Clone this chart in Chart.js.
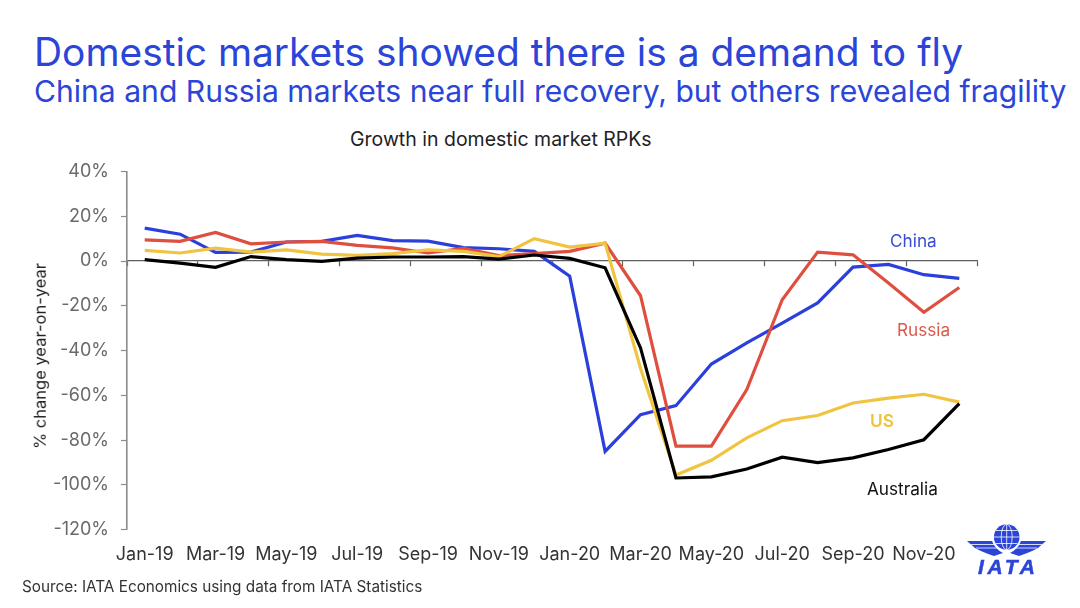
<!DOCTYPE html>
<html>
<head>
<meta charset="utf-8">
<title>Growth in domestic market RPKs</title>
<script src="https://cdn.jsdelivr.net/npm/chart.js@4/dist/chart.umd.min.js"></script>
<style>
    html, body { margin: 0; padding: 0; background: #fff; }
    body { width: 1080px; height: 608px; position: relative; overflow: hidden; font-family: Inter, "Open Sans", sans-serif; }
    canvas { position: absolute; left: 0; top: 0; }
    .text { position: absolute; white-space: nowrap; line-height: 1; }
    .blue { color: #2a45d8; }
    #headline { left: 34px; top: 32.5px; font-size: 38.9px; }
    #subline { left: 34px; top: 76px; font-size: 30.1px; }
    #chartTitle { left: 350px; top: 130px; font-size: 19.5px; color: #222; }
    #source { left: 22px; top: 578.5px; font-size: 15.3px; color: #333; }
    #yTitle { left: 40px; top: 356px; font-size: 16.5px; color: #222; transform: translate(-50%, -50%) rotate(-90deg); }
    .series-label { font-size: 17.2px; }
    #labelChina { left: 890px; top: 231.5px; color: #3a4ccf; }
    #labelRussia { left: 897px; top: 320.5px; color: #dc5a4c; }
    #labelUs { left: 870px; top: 411.5px; color: #efc23e; font-weight: 600; }
    #labelAustralia { left: 867px; top: 479.5px; color: #111; }
    #logo { position: absolute; left: 960px; top: 520px; }
</style>
</head>
<body>
<div id="headline" class="text blue">Domestic markets showed there is a demand to fly</div>
<div id="subline" class="text blue">China and Russia markets near full recovery, but others revealed fragility</div>
<div id="chartTitle" class="text">Growth in domestic market RPKs</div>
<canvas id="marketChart" width="1080" height="608"></canvas>
<div id="yTitle" class="text">% change year-on-year</div>
<div id="labelChina" class="text series-label">China</div>
<div id="labelRussia" class="text series-label">Russia</div>
<div id="labelUs" class="text series-label">US</div>
<div id="labelAustralia" class="text series-label">Australia</div>
<div id="source" class="text">Source: IATA Economics using data from IATA Statistics</div>

<svg id="logo" width="92" height="60" viewBox="960 520 92 60">
    <circle cx="1006.7" cy="537" r="12.8" fill="#2a45d8"/>
    <g fill="none" stroke="#fff" stroke-width="0.8">
        <ellipse cx="1006.7" cy="537" rx="5.5" ry="12.8"/>
        <line x1="1006.7" y1="524" x2="1006.7" y2="550"/>
        <line x1="994" y1="537" x2="1019.5" y2="537"/>
        <line x1="996" y1="530.5" x2="1017.5" y2="530.5"/>
        <line x1="996" y1="543.5" x2="1017.5" y2="543.5"/>
    </g>
    <g fill="#2a45d8">
        <path d="M967 541 L992 541 Q995 549 1003 553 L994 556 Q982 552 975 548 Z"/>
        <path d="M1046 541 L1021 541 Q1018 549 1010 553 L1019 556 Q1031 552 1038 548 Z"/>
    </g>
    <g stroke="#fff" stroke-width="0.8">
        <line x1="971" y1="544.5" x2="994" y2="544.5"/>
        <line x1="976" y1="548" x2="997" y2="548"/>
        <line x1="1042" y1="544.5" x2="1019" y2="544.5"/>
        <line x1="1037" y1="548" x2="1016" y2="548"/>
    </g>
    <text x="978" y="574" textLength="57" lengthAdjust="spacing" font-family="Liberation Sans" font-weight="700" font-style="italic" font-size="21" stroke="#2a45d8" stroke-width="0.5" fill="#2a45d8">IATA</text>
</svg>

<script>
var months = ["Jan-19", "Feb-19", "Mar-19", "Apr-19", "May-19", "Jun-19", "Jul-19", "Aug-19", "Sep-19", "Oct-19", "Nov-19", "Dec-19",
    "Jan-20", "Feb-20", "Mar-20", "Apr-20", "May-20", "Jun-20", "Jul-20", "Aug-20", "Sep-20", "Oct-20", "Nov-20", "Dec-20"];
var china = [14.7, 12, 3.9, 4, 8.5, 8.8, 11.5, 9.1, 8.9, 6, 5.5, 4.3, -6.8, -85, -68.6, -64.6, -46, -36.5, -27.7, -18.7, -2.7, -1.5, -6.1, -7.7];
var russia = [9.5, 8.8, 12.8, 7.7, 8.5, 8.8, 7, 5.9, 3.6, 5.7, 2.4, 3.3, 4.3, 8, -15.5, -82.7, -82.7, -57.4, -17.3, 4, 2.8, -9.8, -22.9, -11.8];
var us = [4.8, 3.6, 5.8, 4, 5, 3.1, 2.5, 3.3, 5, 4.3, 2, 10, 6.2, 8, -48, -95.6, -89, -79, -71.3, -69, -63.4, -61.2, -59.5, -63];
var australia = [0.6, -0.9, -2.8, 2, 0.6, -0.1, 1.3, 1.8, 1.8, 2, 0.9, 2.7, 1.2, -3, -38.8, -96.9, -96.4, -92.9, -87.6, -90, -87.9, -84.2, -79.8, -63.7];

document.addEventListener("DOMContentLoaded", function () {
    setupMarketChart();
});

function createDataset(label, values, color) {
    return {
        label: label,
        data: values,
        borderColor: color,
        backgroundColor: color,
        borderWidth: 3.2,
        pointRadius: 0,
        tension: 0,
        xAxisID: "x",
        yAxisID: "y"
    };
}

function setupMarketChart() {
    var axisColor = "#5f5f5f";
    var labelFont = { family: "Inter", size: 18 };

    // De eerste dataset ligt bovenop, dus Australia staat vooraan.
    new Chart(document.getElementById("marketChart"), {
        type: "line",
        data: {
            labels: months,
            datasets: [
                createDataset("Australia", australia, "#000000"),
                createDataset("US", us, "#f0c440"),
                createDataset("Russia", russia, "#de4f40"),
                createDataset("China", china, "#2a3fdc")
            ]
        },
        options: {
            responsive: false,
            animation: false,
            layout: { padding: { top: 171.5, right: 103, bottom: 0, left: 0 } },
            plugins: { legend: { display: false }, title: { display: false }, tooltip: { enabled: false } },
            scales: {
                // Onderste as: alleen de maandlabels.
                x: {
                    type: "category",
                    position: "bottom",
                    offset: true,
                    border: { display: false },
                    grid: { display: false, drawTicks: false },
                    afterFit: function (scale) { scale.height = 78.3; },
                    ticks: {
                        autoSkip: false,
                        maxRotation: 0,
                        minRotation: 0,
                        padding: 14,
                        color: "#333333",
                        font: labelFont,
                        callback: function (value, index) {
                            return index % 2 === 0 ? months[index] : "";
                        }
                    }
                },
                // Nullijn met streepjes om de twee maanden.
                axisAtZero: {
                    type: "category",
                    axis: "x",
                    position: { y: 0 },
                    offset: true,
                    border: { display: true, color: axisColor, width: 1.2 },
                    ticks: { display: false, autoSkip: false },
                    grid: {
                        offset: true,
                        drawOnChartArea: false,
                        tickLength: 5,
                        tickWidth: 1.2,
                        tickColor: function (context) {
                            return context.index % 2 === 1 ? "rgba(0,0,0,0)" : axisColor;
                        }
                    }
                },
                y: {
                    min: -120,
                    max: 40,
                    afterFit: function (scale) { scale.width = 127; },
                    border: { color: "#8c8c8c", width: 1.6 },
                    grid: { drawOnChartArea: false, tickLength: 6, tickWidth: 1.2, tickColor: "#8c8c8c" },
                    ticks: {
                        stepSize: 20,
                        padding: 12,
                        color: "#6a6a6a",
                        font: labelFont,
                        callback: function (value) {
                            return value + "%";
                        }
                    }
                }
            }
        }
    });
}
</script>
</body>
</html>
